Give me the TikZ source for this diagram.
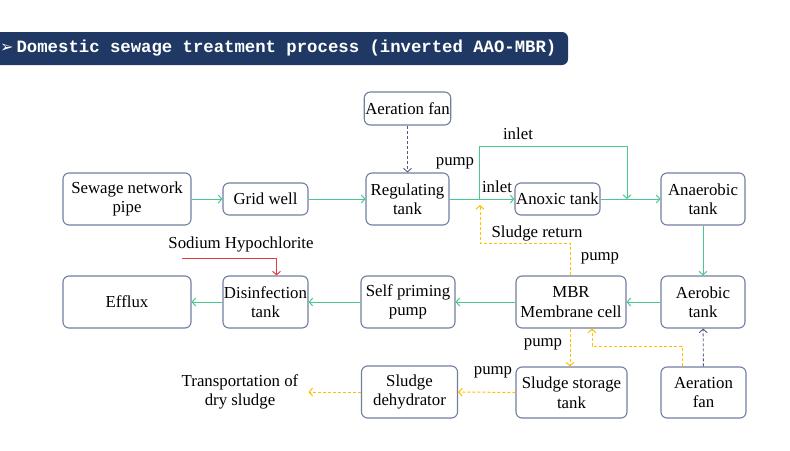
\documentclass[tikz,border=0pt]{standalone}
\usepackage{fontspec}
\setmainfont{Liberation Serif}
\newfontfamily\symfont{DejaVu Sans}
\newfontfamily\titlefont{Liberation Mono}
\usetikzlibrary{arrows.meta}
\definecolor{navy}{RGB}{31,56,100}
\definecolor{gcol}{RGB}{72,200,140}
\definecolor{ycol}{RGB}{255,192,0}
\definecolor{bcol}{RGB}{80,92,120}
\definecolor{rcol}{RGB}{228,60,70}
\definecolor{boxc}{RGB}{112,126,160}
\tikzset{
  box/.style={draw=boxc, line width=1.1pt, rounded corners=6pt, align=center,
    inner sep=1pt, font=\fontsize{16.8}{19.5}\selectfont},
  lbl/.style={font=\fontsize{16.8}{19.5}\selectfont, inner sep=0pt},
  tip/.style={-{Straight Barb[length=3.5pt,width=8pt]}},
  gline/.style={tip, draw=gcol, line width=1pt},
  yline/.style={tip, draw=ycol, line width=1pt, dash pattern=on 3pt off 2pt},
  bline/.style={tip, draw=bcol, line width=0.9pt, dash pattern=on 3pt off 2pt},
  rline/.style={tip, draw=rcol, line width=1pt},
}
\begin{document}
\begin{tikzpicture}[x=1pt,y=-1pt]
\useasboundingbox (0,0) rectangle (790,450);
% title bar
\fill[navy, rounded corners=6pt] (-12,32) rectangle (568,65);
\node[anchor=west, text=white, inner sep=0pt] (title) at (0,48.5)
  {{\symfont\fontsize{16}{18}\selectfont ➢}\hspace{3pt}{\titlefont\bfseries\fontsize{17.3}{20}\selectfont Domestic sewage treatment process (inverted AAO-MBR)}};
% boxes
\node[box, minimum width=128pt, minimum height=52pt] (sewage) at (127,199) {Sewage network\\pipe};
\node[box, minimum width=85pt, minimum height=32pt] (grid) at (265.5,199) {Grid well};
\node[box, minimum width=83pt, minimum height=52pt] (reg) at (407.5,199) {Regulating\\tank};
\node[box, minimum width=83pt, minimum height=33pt] (fan1) at (407.5,108.5) {Aeration fan};
\node[box, minimum width=85pt, minimum height=32pt] (anoxic) at (557.5,199) {Anoxic tank};
\node[box, minimum width=84pt, minimum height=52pt] (anaer) at (703,199) {Anaerobic\\tank};
\node[box, minimum width=84pt, minimum height=52pt] (aer) at (703,302) {Aerobic\\tank};
\node[box, minimum width=110pt, minimum height=52pt] (mbr) at (571,302) {MBR\\Membrane cell};
\node[box, minimum width=94pt, minimum height=52pt] (self) at (408,302) {Self priming\\pump};
\node[box, minimum width=85pt, minimum height=52pt] (dis) at (265.5,302) {Disinfection\\tank};
\node[box, minimum width=128pt, minimum height=52pt] (eff) at (127,302) {Efflux};
\node[box, minimum width=96pt, minimum height=52pt] (dehyd) at (409.5,392) {Sludge\\dehydrator};
\node[box, minimum width=111pt, minimum height=51pt] (store) at (571.5,392.5) {Sludge storage\\tank};
\node[box, minimum width=85pt, minimum height=51pt] (fan2) at (703.5,392.5) {Aeration\\fan};
\node[lbl, align=center, inner xsep=10pt] (trans) at (240,392) {Transportation of\\dry sludge};
% labels
\node[lbl] (l1) at (518,134) {inlet};
\node[lbl] (l2) at (455,163) {pump};
\node[lbl] (l3) at (497,187) {inlet};
\node[lbl] (l4) at (537,233) {Sludge return};
\node[lbl] (l5) at (600,258) {pump};
\node[lbl] (l6) at (543,344) {pump};
\node[lbl] (l7) at (493,372) {pump};
\node[lbl] (l8) at (241,244) {Sodium Hypochlorite};
% coordinates
\coordinate (br) at (479,199);
\coordinate (brtop) at (479,146);
\coordinate (join) at (627,199);
\coordinate (na) at (182,258);
\coordinate (sr) at (480,205);
% green flow
\draw[gline] (sewage) -- (grid);
\draw[gline] (grid) -- (reg);
\draw[gline] (reg) -- (anoxic);
\draw[gline] (br) -- (brtop) -| (join);
\draw[gline] (anoxic) -- (anaer);
\draw[gline] (anaer) -- (aer);
\draw[gline] (aer) -- (mbr);
\draw[gline] (mbr) -- (self);
\draw[gline] (self) -- (dis);
\draw[gline] (dis) -- (eff);
% air
\draw[bline] (fan1) -- (reg);
\draw[bline] (fan2) -- (aer);
% chemical
\draw[rline] (na) -| ([xshift=11pt]dis.north);
% sludge
\draw[yline] ([xshift=-1pt]mbr.north) -- ++(0,-32) -| (sr);
\draw[yline] ([xshift=-1pt]mbr.south) -- ([xshift=-1.5pt]store.north);
\draw[yline] ([xshift=-21.5pt]fan2.north) -- ++(0,-20) -| ([xshift=21pt]mbr.south);
\draw[yline] (store) -- (dehyd);
\draw[yline] (dehyd) -- (trans);
\end{tikzpicture}
\end{document}
